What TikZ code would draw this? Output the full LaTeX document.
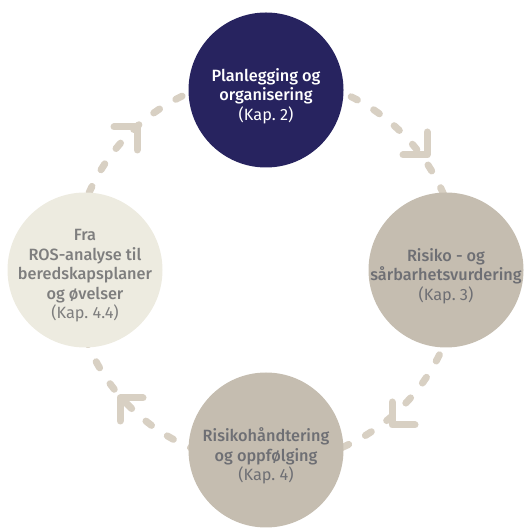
\documentclass[tikz,border=0pt]{standalone}
\usepackage{fontspec}
\setmainfont{Fira Sans Medium}
\newfontfamily\lightfont{Fira Sans}
\definecolor{navy}{HTML}{27235F}
\definecolor{taupe}{HTML}{C5BDB0}
\definecolor{cream}{HTML}{EDEBE0}
\definecolor{dashtan}{HTML}{D8D0C3}
\definecolor{txtgray}{HTML}{6E6F74}
\definecolor{txtlight}{HTML}{7E7E7E}
\tikzset{
 circ/.style={circle, minimum size=155pt, inner sep=0pt},
 txt/.style={align=center, font=\fontsize{16.3}{19.5}\selectfont, yshift=-6pt},
 ring/.style={draw=dashtan, line width=7pt, line cap=round, dash pattern=on 7pt off 19pt},
 chev/.style={draw=dashtan, line width=7pt, line cap=round, line join=round}
}
\begin{document}
\begin{tikzpicture}[x=1pt,y=1pt]
 \useasboundingbox (0,0) rectangle (528,529); %枠
 \coordinate (hub) at (266,259); %輪の中心
 \draw[ring] (hub) circle[radius=193]; %点線の輪

 \draw[chev] (114,402)--(137,402)--(137,379); %左上の矢じり
 \draw[chev] (403,374)--(427,374)--(427,397); %右上の矢じり
 \draw[chev] (392,127)--(392,104)--(415,104); %右下の矢じり
 \draw[chev] (143,131)--(120,131)--(120,108); %左下の矢じり

 \node[circ, fill=navy, label={[txt, text=white]center:Planlegging og\\organisering\\{\lightfont (Kap.~2)}}] (plan) at (266,439) {}; %上
 \node[circ, fill=taupe, label={[txt, text=txtgray]center:Risiko - og\\sårbarhetsvurdering\\{\lightfont (Kap.~3)}}] (ros) at (446,259) {}; %右
 \node[circ, fill=taupe, label={[txt, text=txtgray]center:Risikohåndtering\\og oppfølging\\{\lightfont (Kap.~4)}}] (tiltak) at (266,79) {}; %下
 \node[circ, fill=cream, label={[txt, text=txtlight]center:Fra\\ROS-analyse til\\beredskapsplaner\\og øvelser\\{\lightfont (Kap.~4.4)}}] (beredskap) at (85,259) {}; %左
\end{tikzpicture}
\end{document}
